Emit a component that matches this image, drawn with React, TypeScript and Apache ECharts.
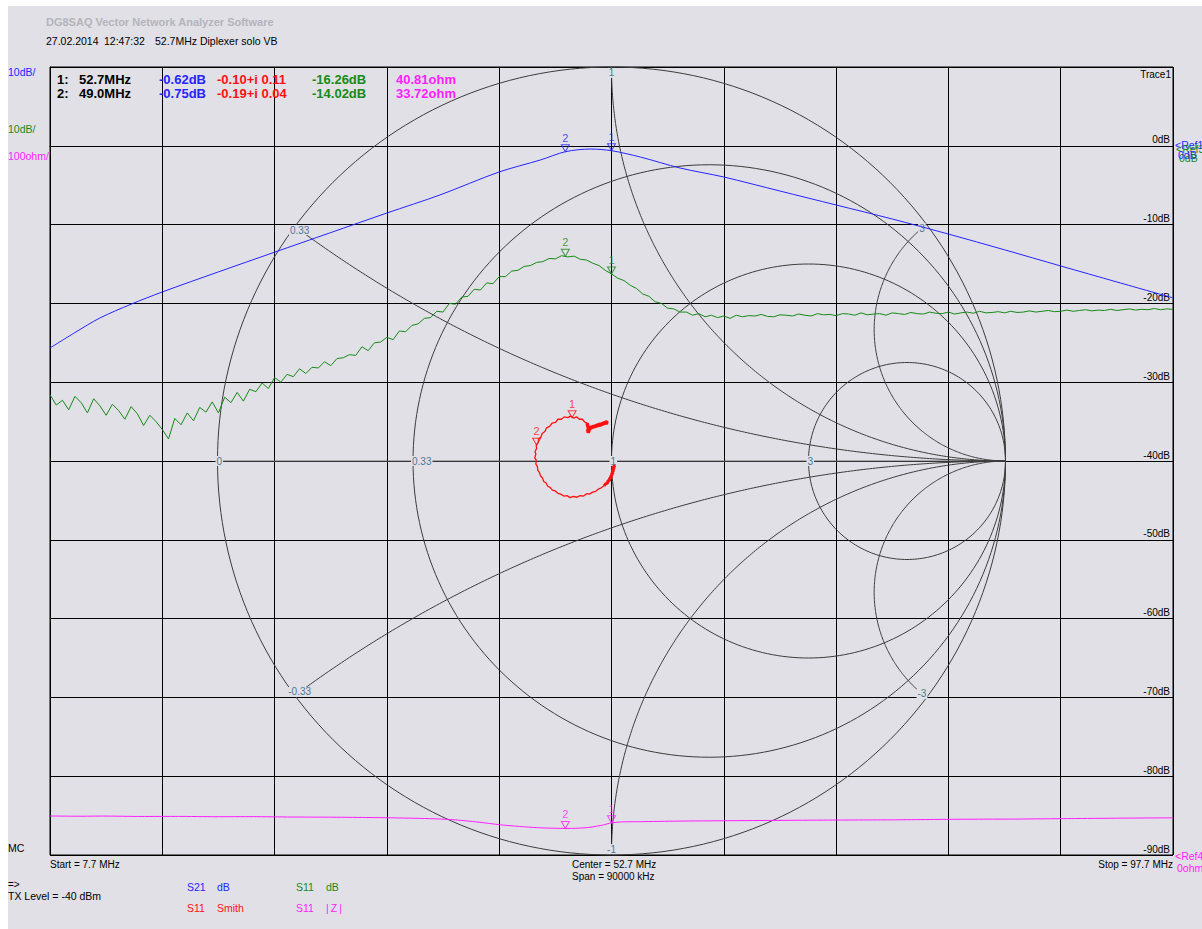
import React, { useEffect, useRef } from "react";
import * as echarts from "echarts";

const BG = "#e1e0e6";
const FONT = '"Liberation Sans", Arial, sans-serif';
const BLUE = "#2424ff";
const GREEN = "#168a16";
const RED = "#ff1010";
const MAGENTA = "#ff1cff";
const SMITH_LINE = "#3c3c3c";
const SMITH_AXIS = "#6e6e6e";
const SMITH_LABEL = "#4d7896";

// sweep
const START_MHZ = 7.7;
const SPAN_MHZ = 90;
const DIV_MHZ = 9;
const DB_MIN = -90;
const DB_MAX = 10;
const DB_STEP = 10;
const Z_MAX = 1000;

// S21 dB (blue)
const s21Freq = [7.7, 9.7, 11.7, 14.2, 16.7, 21.2, 25.7, 30.1, 34.7, 38.95, 43.7, 47.0, 49.0, 51.0, 52.7, 55.0, 58.2, 61.7, 66.2, 70.7, 75.2, 79.7, 84.2, 88.7, 93.2, 97.7];
const s21Db = [-25.66, -23.7, -21.85, -20.1, -18.55, -16.0, -13.5, -11.07, -8.53, -6.24, -3.32, -1.8, -0.75, -0.41, -0.62, -1.42, -2.82, -3.96, -5.74, -7.51, -9.29, -11.2, -13.2, -15.25, -17.28, -19.3];

// S11 dB (green), one value every 0.5 MHz from 7.7 MHz
const s11StepMHz = 0.5;
const s11Db = [
  -31.6, -32.9, -32.3, -33.5, -31.8, -32.6, -33.9, -32.1, -33.0, -34.2,
  -32.8, -33.6, -34.7, -33.1, -34.0, -35.5, -34.2, -35.0, -36.0, -37.2,
  -34.6, -35.4, -33.9, -34.9, -33.2, -33.8, -32.5, -33.9, -31.9, -32.6,
  -31.3, -32.4, -30.9, -31.2, -30.1, -30.8, -29.4, -30.0, -29.0, -29.3,
  -28.3, -28.9, -28.1, -28.2, -27.4, -27.9, -27.0, -26.9, -26.5, -26.6,
  -25.5, -26.0, -25.0, -24.9, -24.3, -24.6, -23.5, -23.6, -22.8, -22.6,
  -21.9, -21.8, -21.0, -21.1, -20.0, -20.1, -19.2, -19.1, -18.2, -18.3,
  -17.4, -17.5, -16.6, -16.6, -15.9, -15.8, -15.3, -15.2, -14.8, -14.7,
  -14.3, -14.35, -13.95, -14.1, -14.0, -14.4, -14.5, -14.9, -15.2, -15.8,
  -16.26, -16.8, -17.1, -17.7, -18.1, -18.8, -19.1, -19.8, -20.0, -20.6,
  -20.7, -21.1, -21.1, -21.5, -21.3, -21.7, -21.5, -21.8, -21.6, -21.9,
  -21.5, -21.7, -21.55, -21.6, -21.4, -21.65, -21.7, -21.45, -21.5, -21.6,
  -21.35, -21.5, -21.6, -21.3, -21.45, -21.4, -21.55, -21.3, -21.35, -21.5,
  -21.2, -21.45, -21.35, -21.3, -21.5, -21.2, -21.3, -21.4, -21.15, -21.3,
  -21.35, -21.1, -21.25, -21.3, -21.1, -21.35, -21.2, -21.1, -21.25, -21.0,
  -21.2, -21.15, -21.05, -21.2, -21.0, -21.15, -21.1, -20.95, -21.1, -21.0,
  -20.9, -21.05, -21.0, -20.85, -21.0, -20.9, -20.8, -20.95, -20.85, -20.9,
  -20.75, -20.9, -20.8, -20.7, -20.85, -20.75, -20.8, -20.65, -20.8, -20.7,
  -20.75
];

// S11 |Z| ohm (magenta)
const zFreq = [7.7, 10, 12, 15, 18, 21, 24, 27, 30, 33, 35, 38, 40, 42, 43.8, 45.5, 47, 48, 49, 50, 51, 52, 52.7, 53.5, 55, 58, 62, 66, 70, 75, 80, 85, 90, 94, 97.7];
const zOhm = [49.5, 49.2, 49.4, 48.9, 49.0, 48.6, 48.7, 48.2, 48.0, 47.6, 47.2, 46.2, 44.8, 41.8, 38.3, 36.0, 34.5, 34.0, 33.72, 34.0, 35.2, 38.0, 40.81, 42.0, 42.3, 43.0, 43.5, 43.9, 44.3, 44.6, 45.3, 45.6, 46.3, 46.8, 47.2];

// S11 Smith (red), reflection coefficient in sweep order
const smithRe = [
  0.006, 0.008, 0.004, 0.007, 0.003, 0.006, 0.002, 0.005, 0.001, 0.004,
  0.000, 0.002, -0.002, 0.000, -0.005, -0.004, -0.009, -0.010, -0.015, -0.019,
  -0.026, -0.033, -0.040, -0.048, -0.056, -0.063, -0.071, -0.080, -0.088, -0.097,
  -0.105, -0.113, -0.121, -0.129, -0.136, -0.143, -0.150, -0.156, -0.162, -0.166,
  -0.172, -0.175, -0.180, -0.183, -0.187, -0.188, -0.192, -0.191, -0.195, -0.192,
  -0.194, -0.190, -0.191, -0.186, -0.185, -0.179, -0.176, -0.169, -0.165, -0.157,
  -0.151, -0.142, -0.136, -0.127, -0.120, -0.111, -0.104, -0.096, -0.089, -0.081,
  -0.074, -0.068, -0.062, -0.060, -0.058, -0.062, -0.055, -0.050, -0.044, -0.038,
  -0.031, -0.025, -0.018, -0.012, -0.020, -0.028, -0.036, -0.045, -0.054, -0.060,
  -0.059, -0.056, -0.048, -0.040, -0.030, -0.022, -0.014, -0.009, -0.017, -0.026,
  -0.035, -0.047, -0.057
];
const smithIm = [
  -0.010, -0.016, -0.013, -0.020, -0.018, -0.024, -0.022, -0.028, -0.027, -0.033,
  -0.031, -0.037, -0.036, -0.042, -0.043, -0.049, -0.050, -0.056, -0.058, -0.063,
  -0.068, -0.071, -0.077, -0.079, -0.084, -0.083, -0.089, -0.088, -0.092, -0.090,
  -0.093, -0.088, -0.089, -0.084, -0.082, -0.076, -0.074, -0.067, -0.064, -0.056,
  -0.052, -0.043, -0.038, -0.029, -0.024, -0.014, -0.008, 0.002, 0.008, 0.017,
  0.024, 0.032, 0.040, 0.047, 0.056, 0.061, 0.070, 0.075, 0.084, 0.088,
  0.096, 0.098, 0.106, 0.106, 0.112, 0.110, 0.114, 0.109, 0.112, 0.106,
  0.106, 0.099, 0.096, 0.088, 0.080, 0.075, 0.082, 0.086, 0.088, 0.090,
  0.093, 0.094, 0.097, 0.098, 0.095, 0.093, 0.091, 0.087, 0.085, 0.079,
  0.072, 0.081, 0.087, 0.089, 0.091, 0.095, 0.099, 0.097, 0.096, 0.092,
  0.090, 0.086, 0.083
];
// sweep points where the Smith trace lingers (drawn heavier)
const smithDenseLowEnd = 20;
const smithDenseHighStart = 72;

// markers
const markerFreq = [52.7, 49.0];
const markerS21Db = [-0.62, -0.75];
const markerS11Re = [-0.1, -0.19];
const markerS11Im = [0.11, 0.04];
const markerS11Db = [-16.26, -14.02];
const markerZOhm = [40.81, 33.72];

// Smith grid values
const resistanceValues = [0.33, 1, 3];
const reactanceValues = [0.33, 1, 3];

export default function App() {
  const ref = useRef<HTMLDivElement>(null);

  useEffect(() => {
    if (!ref.current) return;
    const chart = echarts.init(ref.current, null, { renderer: "svg" });

    const off = (f: number) => f - START_MHZ;
    const s21Data = s21Freq.map((f, i) => [off(f), s21Db[i]]);
    const s11Data = s11Db.map((v, i) => [i * s11StepMHz, v]);
    const zData = zFreq.map((f, i) => [off(f), zOhm[i]]);
    const smithData = smithRe.map((r, i) => [r, smithIm[i]]);

    const markerSymbol = "path://M0,0L10,0L5,9Z";
    const markerSeries = (data: any[], color: string, xi: number, yi: number) => ({
      type: "scatter",
      xAxisIndex: xi,
      yAxisIndex: yi,
      z: 5,
      silent: true,
      symbol: markerSymbol,
      symbolSize: [8, 7],
      symbolOffset: [0, -3.5],
      itemStyle: { color: "rgba(0,0,0,0)", borderColor: color, borderWidth: 1 },
      label: {
        show: true,
        position: "top",
        distance: 1,
        formatter: "{b}",
        color,
        fontSize: 11,
        fontFamily: FONT,
      },
      data,
    });

    const t = (
      text: string,
      x: number,
      y: number,
      fill: string,
      size = 10,
      weight = "normal",
      align = "left"
    ) => ({
      type: "text",
      x,
      y,
      z: 100,
      silent: true,
      style: {
        text,
        fill,
        font: `${weight} ${size}px ${FONT}`,
        align,
        textAlign: align,
        verticalAlign: "middle",
        textVerticalAlign: "middle",
      },
    });

    const readRows = [0, 1].map((i) => {
      const y = i === 0 ? 79 : 93;
      return [
        t(`${i + 1}:`, 57, y, "#000", 13, "bold"),
        t(`${markerFreq[i].toFixed(1)}MHz`, 79, y, "#000", 13, "bold"),
        t(`${markerS21Db[i].toFixed(2)}dB`, 159, y, BLUE, 13, "bold"),
        t(`${markerS11Re[i].toFixed(2)}+i ${markerS11Im[i].toFixed(2)}`, 217, y, RED, 13, "bold"),
        t(`${markerS11Db[i].toFixed(2)}dB`, 312, y, GREEN, 13, "bold"),
        t(`${markerZOhm[i].toFixed(2)}ohm`, 396, y, MAGENTA, 13, "bold"),
      ];
    }).flat();

    const graphics: any[] = [
      t("DG8SAQ Vector Network Analyzer Software", 46, 22, "#b4b4ba", 11, "bold"),
      t("27.02.2014", 46, 41, "#000", 10.5),
      t("12:47:32", 104, 41, "#000", 10.5),
      t("52.7MHz Diplexer solo VB", 155, 41, "#000", 10.5),
      ...readRows,
      t("10dB/", 8, 72, BLUE, 10.5),
      t("10dB/", 8, 129, GREEN, 10.5),
      t("100ohm/", 8, 156, MAGENTA, 10.5),
      t("MC", 8, 848, "#000", 10.5),
      t("Trace1", 1171, 74, "#000", 10, "normal", "right"),
      t("<Ref1", 1175, 145, BLUE, 10.5),
      t("<Ref3", 1176, 149, GREEN, 10.5),
      t("0dB", 1178, 155, BLUE, 10.5),
      t("0dB", 1179, 158, GREEN, 10.5),
      t("<Ref4", 1175, 856, MAGENTA, 10.5),
      t("0ohm", 1177, 868, MAGENTA, 10.5),
      t(`Start = ${START_MHZ} MHz`, 50, 864, "#000", 10),
      t(`Center = ${(START_MHZ + SPAN_MHZ / 2).toFixed(1)} MHz`, 572, 864, "#000", 10),
      t(`Span = ${SPAN_MHZ * 1000} kHz`, 572, 876, "#000", 10),
      t(`Stop = ${(START_MHZ + SPAN_MHZ).toFixed(1)} MHz`, 1173, 864, "#000", 10, "normal", "right"),
      t("=>", 8, 884, "#000", 10),
      t("TX Level = -40 dBm", 8, 896, "#000", 10.5),
      t("S21", 187, 887, BLUE, 10.5),
      t("dB", 217, 887, BLUE, 10.5),
      t("S11", 296, 887, GREEN, 10.5),
      t("dB", 326, 887, GREEN, 10.5),
      t("S11", 187, 908, RED, 10.5),
      t("Smith", 217, 908, RED, 10.5),
      t("S11", 296, 908, MAGENTA, 10.5),
      t("|\u2009Z\u2009|", 326, 908, MAGENTA, 10.5),
    ];

    const smithGrid = {
      type: "custom",
      xAxisIndex: 1,
      yAxisIndex: 2,
      silent: true,
      z: 1,
      clip: false,
      data: [[0, 0]],
      renderItem: (_params: any, api: any) => {
        const children: any[] = [];
        const arc = (cx: number, cy: number, r: number, a0: number, a1: number) => {
          const n = 240;
          const pts: number[][] = [];
          for (let i = 0; i <= n; i++) {
            const a = a0 + ((a1 - a0) * i) / n;
            pts.push(api.coord([cx + r * Math.cos(a), cy + r * Math.sin(a)]));
          }
          return pts;
        };
        const add = (pts: number[][], stroke: string) =>
          children.push({
            type: "polyline",
            shape: { points: pts },
            style: { stroke, fill: "none", lineWidth: 1 },
          });
        add([api.coord([-1, 0]), api.coord([1, 0])], SMITH_AXIS);
        add(arc(0, 0, 1, 0, 2 * Math.PI), SMITH_LINE);
        for (const r of resistanceValues) {
          add(arc(r / (1 + r), 0, 1 / (1 + r), 0, 2 * Math.PI), SMITH_LINE);
        }
        const labels: any[] = [];
        const lab = (text: string, p: number[], align: string) =>
          labels.push({
            type: "text",
            x: align === "left" ? p[0] - 2 : p[0],
            y: p[1],
            z2: 10,
            style: {
              text,
              fill: SMITH_LABEL,
              fontSize: 10,
              fontFamily: FONT,
              align,
              verticalAlign: "middle",
              backgroundColor: BG,
              padding: [0, 1],
            },
          });
        for (const x of reactanceValues) {
          for (const s of [1, -1]) {
            const cy = s / x;
            const rad = 1 / x;
            const px = (x * x - 1) / (x * x + 1);
            const py = (s * 2 * x) / (x * x + 1);
            const a0 = (-s * Math.PI) / 2;
            let a1 = Math.atan2(py - cy, px - 1);
            if (s > 0) {
              if (a1 > a0) a1 -= 2 * Math.PI;
            } else if (a1 < a0) a1 += 2 * Math.PI;
            add(arc(1, cy, rad, a0, a1), SMITH_LINE);
            lab((s < 0 ? "-" : "") + String(x), api.coord([px * 0.985, py * 0.985]), "center");
          }
        }
        for (const r of [0, ...resistanceValues]) {
          lab(String(r), api.coord([(r - 1) / (r + 1), 0]), "left");
        }
        return { type: "group", children: [...children, ...labels] };
      },
    };

    const smithLine = (data: number[][], width: number) => ({
      type: "line",
      xAxisIndex: 1,
      yAxisIndex: 2,
      data,
      symbol: "none",
      z: 3,
      lineStyle: { color: RED, width },
      silent: true,
    });

    const option: any = {
      animation: false,
      backgroundColor: "transparent",
      textStyle: { fontFamily: FONT },
      grid: [
        {
          left: 50,
          top: 67,
          width: 1123,
          height: 788,
          show: true,
          borderColor: "#000",
          borderWidth: 1,
          backgroundColor: "transparent",
          outerBoundsMode: "none",
        },
        { left: 217.5, top: 67, width: 788, height: 788, outerBoundsMode: "none" },
      ],
      xAxis: [
        {
          gridIndex: 0,
          type: "value",
          min: 0,
          max: SPAN_MHZ,
          interval: DIV_MHZ,
          axisLine: { show: true, lineStyle: { color: "#000", width: 1 } },
          axisTick: { show: false },
          axisLabel: { show: false },
          splitLine: { show: true, lineStyle: { color: "#000", width: 1 } },
        },
        { gridIndex: 1, type: "value", min: -1, max: 1, show: false, splitLine: { show: false } },
      ],
      yAxis: [
        {
          gridIndex: 0,
          type: "value",
          min: DB_MIN,
          max: DB_MAX,
          interval: DB_STEP,
          position: "right",
          axisLine: { show: true, lineStyle: { color: "#000", width: 1 } },
          axisTick: { show: false },
          axisLabel: {
            inside: true,
            margin: 3,
            color: "#000",
            fontSize: 10,
            fontFamily: FONT,
            verticalAlign: "bottom",
            padding: [0, 0, 1, 0],
            formatter: (v: number) => (v === DB_MAX ? "" : `${v}dB`),
          },
          splitLine: { show: true, lineStyle: { color: "#000", width: 1 } },
        },
        { gridIndex: 0, type: "value", min: 0, max: Z_MAX, show: false, splitLine: { show: false } },
        { gridIndex: 1, type: "value", min: -1, max: 1, show: false, splitLine: { show: false } },
      ],
      graphic: graphics,
      series: [
        smithGrid,
        {
          type: "line",
          name: "S21 dB",
          xAxisIndex: 0,
          yAxisIndex: 0,
          data: s21Data,
          symbol: "none",
          smooth: 0.3,
          z: 3,
          lineStyle: { color: BLUE, width: 1 },
          silent: true,
        },
        {
          type: "line",
          name: "S11 dB",
          xAxisIndex: 0,
          yAxisIndex: 0,
          data: s11Data,
          symbol: "none",
          z: 3,
          lineStyle: { color: GREEN, width: 1 },
          silent: true,
        },
        {
          type: "line",
          name: "S11 |Z|",
          xAxisIndex: 0,
          yAxisIndex: 1,
          data: zData,
          symbol: "none",
          smooth: 0.2,
          z: 3,
          lineStyle: { color: MAGENTA, width: 1 },
          silent: true,
        },
        smithLine(smithData, 1.3),
        smithLine(smithData.slice(0, smithDenseLowEnd), 3),
        smithLine(smithData.slice(smithDenseHighStart), 3.5),
        markerSeries(
          markerFreq.map((f, i) => ({ value: [off(f), markerS21Db[i]], name: String(i + 1) })),
          BLUE, 0, 0
        ),
        markerSeries(
          markerFreq.map((f, i) => ({ value: [off(f), markerS11Db[i]], name: String(i + 1) })),
          GREEN, 0, 0
        ),
        markerSeries(
          markerFreq.map((f, i) => ({ value: [off(f), markerZOhm[i]], name: String(i + 1) })),
          MAGENTA, 0, 1
        ),
        markerSeries(
          markerS11Re.map((r, i) => ({ value: [r, markerS11Im[i]], name: String(i + 1) })),
          RED, 1, 2
        ),
      ],
    };

    chart.setOption(option);
    return () => chart.dispose();
  }, []);

  return (
    <div style={{ position: "fixed", left: 0, top: 0, width: 1202, height: 929, background: "#fff" }}>
      <div style={{ position: "absolute", left: 8, top: 6, right: 0, bottom: 0, background: BG }} />
      <div ref={ref} style={{ position: "absolute", left: 0, top: 0, width: 1202, height: 929 }} />
    </div>
  );
}
